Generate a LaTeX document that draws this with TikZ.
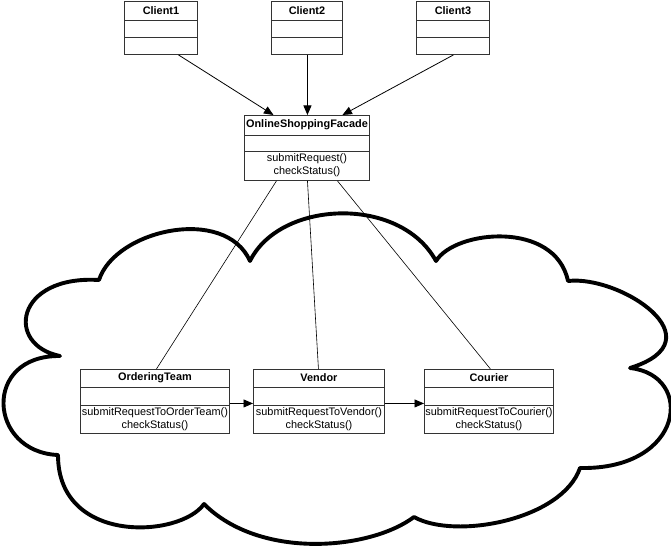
\documentclass[tikz,border=0pt]{standalone}
\usepackage{fontspec}
\setmainfont{Liberation Sans}
\usetikzlibrary{arrows.meta,calc}
\begin{document}
\begin{tikzpicture}[x=1pt,y=-1pt,
  umlbox/.style={draw=black!80, line width=0.9pt, inner sep=0pt, fill=white, anchor=north west},
  sepline/.style={draw=black!80, line width=0.9pt},
  ttl/.style={font=\fontsize{10.9}{12}\selectfont\bfseries, inner sep=0pt},
  mth/.style={font=\fontsize{10.9}{12.8}\selectfont, align=center, inner sep=0pt},
  arr/.style={line width=0.8pt, -{Triangle[length=9.5pt,width=8pt]}},
  lnk/.style={line width=0.6pt},
  cloudline/.style={line width=3.9pt, line join=round, fill=white}]
\fill[white] (0,0) rectangle (671,548);
\useasboundingbox (0,0) rectangle (671,548);

% cloud
\draw[cloudline] (250,261) .. controls (280,200) and (400,195) .. (436,261)
 .. controls (455,230) and (555,220) .. (568,281)
 .. controls (620,275) and (720,340) .. (630,368)
 .. controls (695,375) and (685,470) .. (580,468)
 .. controls (562,520) and (455,540) .. (414,517)
 .. controls (370,550) and (260,560) .. (204,504)
 .. controls (180,538) and (58,545) .. (58,455)
 .. controls (-12,452) and (-18,355) .. (60,356)
 .. controls (5,345) and (15,275) .. (99,280)
 .. controls (115,230) and (225,205) .. (250,261) -- cycle;

% clients
\node[umlbox, minimum width=73pt, minimum height=53pt] (c1) at (124,1) {};
\node[umlbox, minimum width=71pt, minimum height=53pt] (c2) at (271,1) {};
\node[umlbox, minimum width=73pt, minimum height=53pt] (c3) at (416,1) {};
\foreach \n in {c1,c2,c3}{
  \draw[sepline] ([yshift=-19pt]\n.north west) -- ([yshift=-19pt]\n.north east);
  \draw[sepline] ([yshift=-36pt]\n.north west) -- ([yshift=-36pt]\n.north east);
}
\node[ttl] (c1t) at ([yshift=-9.5pt]c1.north) {Client1};
\node[ttl] (c2t) at ([yshift=-9.5pt]c2.north) {Client2};
\node[ttl] (c3t) at ([yshift=-9.5pt]c3.north) {Client3};

% facade
\node[umlbox, minimum width=125pt, minimum height=65pt] (fac) at (244,115) {};
\draw[sepline] ([yshift=-20pt]fac.north west) -- ([yshift=-20pt]fac.north east);
\draw[sepline] ([yshift=-36pt]fac.north west) -- ([yshift=-36pt]fac.north east);
\node[ttl] (fact) at ([yshift=-10pt]fac.north) {OnlineShoppingFacade};
\node[mth] (facm) at ([yshift=-50.5pt]fac.north) {submitRequest()\\checkStatus()};

% subsystem classes
\node[umlbox, minimum width=149pt, minimum height=64pt] (ot) at (80,369) {};
\node[umlbox, minimum width=131pt, minimum height=64pt] (ven) at (253,369) {};
\node[umlbox, minimum width=129pt, minimum height=64pt] (cou) at (424,369) {};
\foreach \n in {ot,ven,cou}{
  \draw[sepline] ([yshift=-18pt]\n.north west) -- ([yshift=-18pt]\n.north east);
  \draw[sepline] ([yshift=-36pt]\n.north west) -- ([yshift=-36pt]\n.north east);
}
\node[ttl] (ott) at ([yshift=-9pt]ot.north) {OrderingTeam};
\node[ttl] (vent) at ([yshift=-9pt]ven.north) {Vendor};
\node[ttl] (cout) at ([yshift=-9pt]cou.north) {Courier};
\node[mth] (otm) at ([yshift=-50.5pt]ot.north) {submitRequestToOrderTeam()\\checkStatus()};
\node[mth] (venm) at ([yshift=-50.5pt]ven.north) {submitRequestToVendor()\\checkStatus()};
\node[mth] (coum) at ([yshift=-50.5pt]cou.north) {submitRequestToCourier()\\checkStatus()};

% connectors
\draw[arr] ([xshift=17.5pt]c1.south) -- ([xshift=-33.5pt]fac.north);
\draw[arr] ([xshift=0.5pt]c2.south) -- ([xshift=0.5pt]fac.north);
\draw[arr] ([xshift=0.5pt]c3.south) -- ([xshift=35.5pt]fac.north);

\draw[lnk] ([xshift=-30.5pt]fac.south) -- ([xshift=1.5pt]ot.north);
\draw[lnk] ([xshift=0.5pt]fac.south) -- ([xshift=-0.5pt]ven.north);
\draw[lnk] ([xshift=30.5pt]fac.south) -- ([xshift=1.5pt]cou.north);

\draw[arr] ([yshift=-2pt]ot.east) -- ([yshift=-2pt]ven.west);
\draw[arr] ([yshift=-2pt]ven.east) -- ([yshift=-2pt]cou.west);
\end{tikzpicture}
\end{document}
